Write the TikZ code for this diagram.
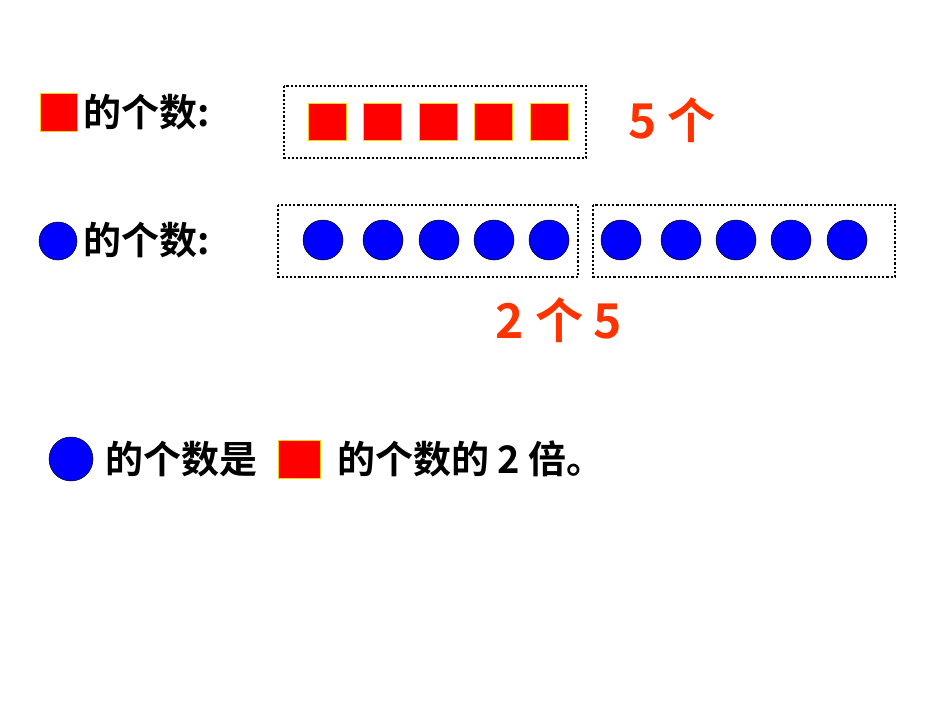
\documentclass[tikz,border=0pt]{standalone}
\usepackage{fontspec}
\newfontfamily\cjk{Noto Sans CJK SC}[BoldFont={Noto Sans CJK SC Bold}]
\definecolor{sq}{HTML}{FF0000}
\definecolor{ci}{HTML}{0000FF}
\definecolor{og}{HTML}{FF3300}
\begin{document}
\begin{tikzpicture}[x=1pt,y=-1pt,
  sqs/.style={fill=sq,draw=yellow!70!orange,line width=0.6pt},
  cis/.style={fill=ci,draw=black,line width=0.5pt},
  grp/.style={draw=black,dotted,line width=2.2pt},
  lbl/.style={font=\cjk\bfseries\fontsize{38}{42}\selectfont,anchor=west,inner sep=0},
  big/.style={font=\cjk\bfseries\fontsize{48}{54}\selectfont,text=og,inner sep=0}]
\useasboundingbox (0,0) rectangle (950,713);
% row 1
\draw[sqs] (40,93) rectangle (77,131);
\node[lbl] (t1) at (83,112) {的个数:};
\draw[grp] (284,86) rectangle (586,158);
\foreach \i in {0,...,4}{\draw[sqs] ({308+55.5*\i},103) rectangle ({346+55.5*\i},140);}
\node[big] (n5) at (672,120) {5 个};
% row 2
\draw[cis] (58,241) circle (19);
\node[lbl] (t2) at (83,240) {的个数:};
\draw[grp] (278,205) rectangle (578,277);
\draw[grp] (593,205) rectangle (895,277);
\foreach \x in {323,383,439,494,549,621,681,736,791,847}{\draw[cis] (\x,240) circle (20);}
\node[big] (n25) at (559,320) {2 个 5};
% row 3
\draw[cis] (71,459) circle (22);
\node[lbl] (t3) at (105,459) {的个数是};
\draw[sqs] (278,440) rectangle (320,478);
\node[lbl] (t4) at (337,459) {的个数的 2 倍。};
\end{tikzpicture}
\end{document}
